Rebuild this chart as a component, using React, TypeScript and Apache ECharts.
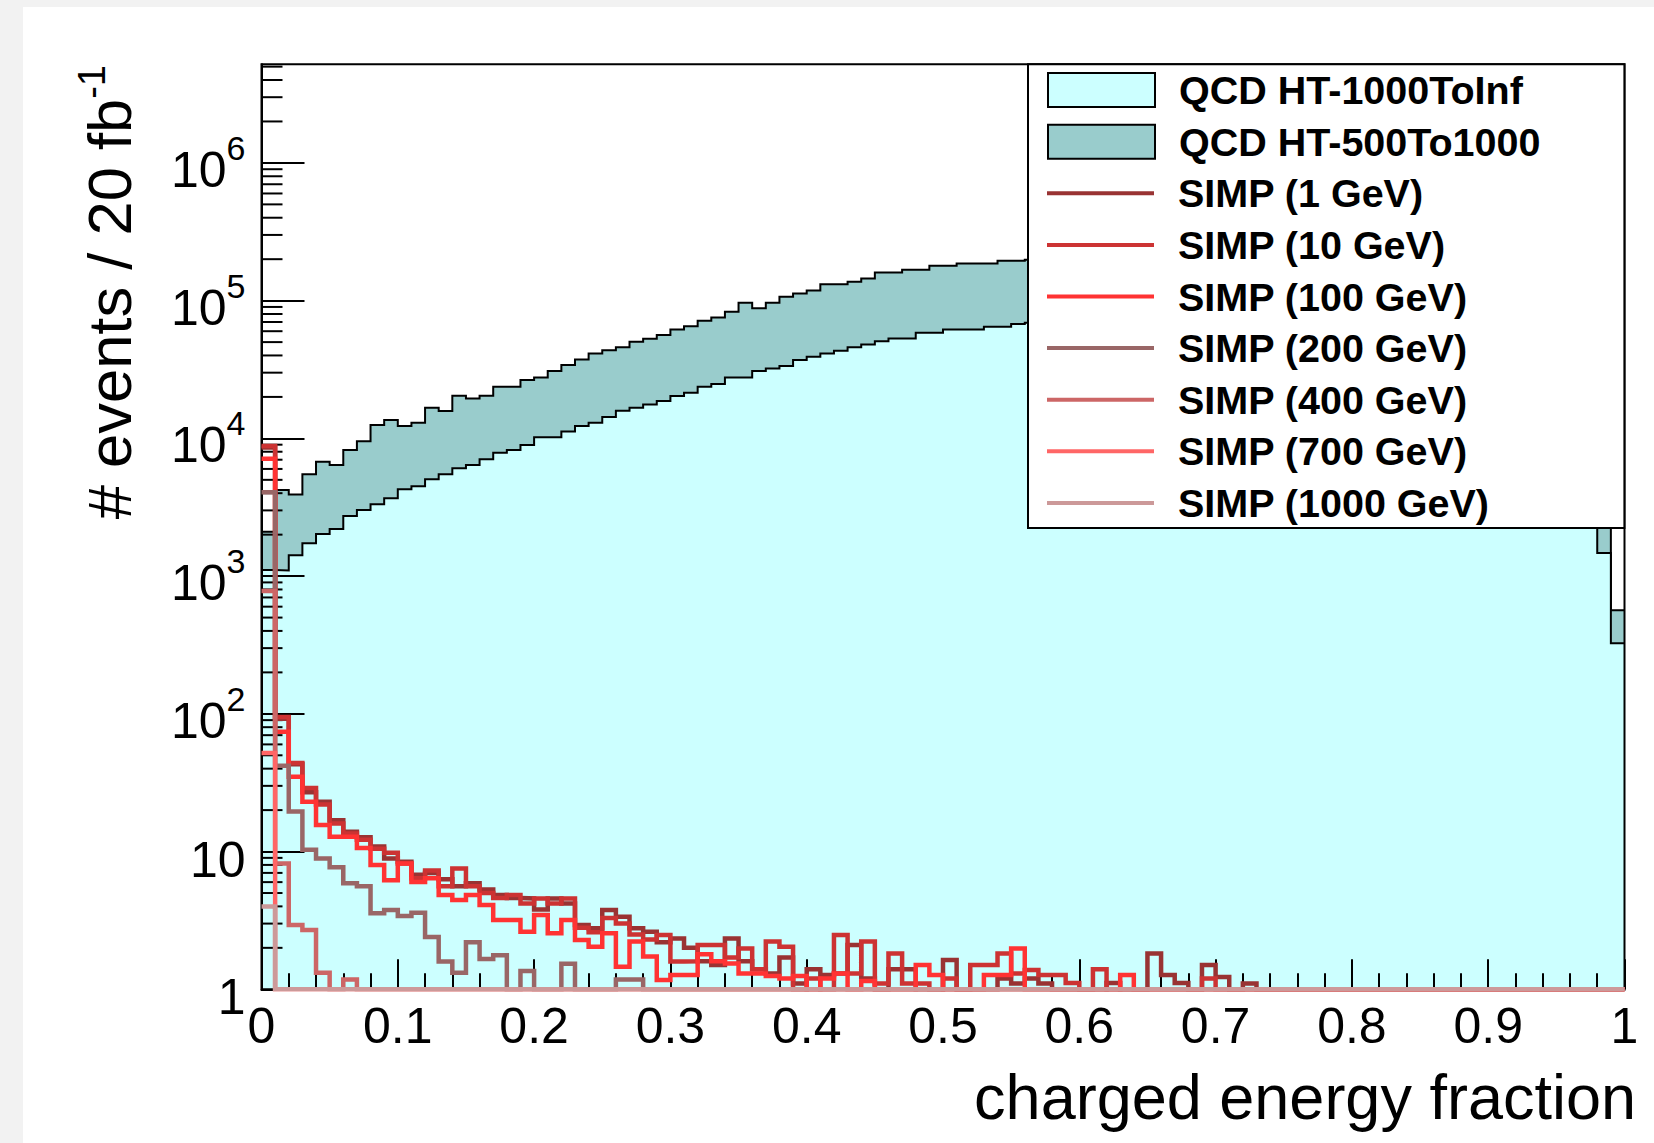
import React, { useEffect, useRef } from "react";
import * as echarts from "echarts";

// ---------------- data (100 bins of width 0.01 in charged energy fraction) ----------------
const N_BINS = 100;
const BIN_WIDTH = 0.01;
const xTickLabels = ["0", "0.1", "0.2", "0.3", "0.4", "0.5", "0.6", "0.7", "0.8", "0.9", "1"];

// QCD HT-1000ToInf (bottom of the stack, light cyan)
const qcdHT1000ToInf = [
  1107, 1100, 1420, 1730, 2020, 2200, 2730, 3020, 3320, 3670,
  4280, 4500, 5040, 5480, 6060, 6400, 7040, 7870, 8220, 8940,
  10200, 10200, 11200, 12300, 13000, 14300, 15900, 16700, 17600, 18700,
  20300, 21400, 23700, 24800, 27700, 27700, 30800, 32200, 33500, 37000,
  39100, 41400, 43200, 45800, 48100, 50800, 53200, 53200, 58400, 58400,
  61800, 61800, 61800, 64600, 64600, 67600, 69000, 70000, 71000, 72000,
  72500, 73000, 73500, 73500, 73000, 72500, 71500, 70500, 69000, 67500,
  65500, 63500, 61000, 58500, 56000, 53000, 50000, 47000, 44000, 41000,
  38000, 35000, 32000, 29000, 26000, 23000, 20500, 18000, 15500, 13500,
  11500, 10000, 8500, 7200, 6000, 5000, 3800, 2600, 1470, 326,
];

// top outline of the stack (HT-1000ToInf + HT-500To1000)
const qcdStackTotal = [
  2100, 4220, 3920, 5480, 6760, 6400, 8220, 9550, 12500, 13600,
  12300, 13000, 16700, 15800, 20400, 19500, 20400, 23700, 23700, 26500,
  27700, 30800, 34100, 37400, 41400, 43700, 45800, 50300, 52800, 56200,
  61800, 65300, 71400, 75600, 83000, 96600, 87900, 96600, 106700, 112800,
  118600, 131800, 131800, 137000, 145000, 160300, 160300, 167500, 167500, 179000,
  179000, 186400, 186400, 186400, 194700, 194700, 198000, 200000, 203000, 205000,
  207000, 208000, 209000, 209000, 208000, 206000, 203000, 199000, 195000, 190000,
  184000, 177000, 170000, 162000, 153000, 144000, 135000, 125000, 116000, 106000,
  97000, 88000, 79000, 70000, 62000, 54000, 47000, 40000, 34000, 29000,
  24000, 20000, 16500, 13500, 11000, 8800, 6500, 4500, 2600, 566,
];

const simp1GeV = [
  8600, 92, 43, 27, 23, 16.9, 13.9, 12.7, 10.9, 8.9,
  8.45, 6.8, 7.0, 6.3, 5.6, 5.9, 5.3, 4.84, 4.6, 4.57,
  3.8, 4.57, 4.2, 2.93, 2.77, 3.77, 3.37, 2.77, 2.62, 2.2,
  2.34, 2.0, 1.6, 1.5, 2.34, 1.6, 1.4, 1.3, 1.7, 1.1,
  1.4, 1.27, 1.3, 2.1, 1.2, 0, 1.4, 1.4, 0, 0,
  1.63, 0, 0, 0, 1.2, 1.1, 1.2, 1.1, 0, 0,
  0, 0, 1.11, 0, 0, 1.82, 1.27, 1.11, 0, 1.5,
  1.23, 0, 1.1,
];
const simp10GeV = [
  8800, 95, 44, 29, 22, 16, 13.5, 12.2, 10.5, 9.8,
  8.2, 6.4, 7.3, 5.6, 7.55, 5.6, 5.0, 4.6, 4.84, 4.2,
  4.57, 4.2, 4.57, 2.8, 2.6, 3.3, 3.0, 2.5, 2.3, 2.48,
  1.59, 1.6, 2.1, 2.1, 1.7, 1.98, 1.4, 2.22, 2.04, 0,
  1.2, 0, 2.48, 1.3, 2.22, 1.1, 1.82, 1.1, 1.1, 0,
  1.2, 0, 1.5, 1.5, 1.82, 1.3, 1.38, 1.27, 1.27, 1.11,
  0, 1.4, 0, 0, 0, 0, 0, 0, 0, 1.2,
];
const simp100GeV = [
  7100, 74, 35, 23, 15.6, 12.8, 12.8, 10.6, 8.0, 6.2,
  8.2, 6.0, 6.4, 4.84, 4.45, 4.84, 4.09, 3.18, 3.18, 2.62,
  3.46, 2.55, 3.18, 2.28, 2.04, 2.55, 1.46, 2.22, 1.73, 1.17,
  1.27, 1.27, 1.8, 1.6, 1.54, 1.3, 1.3, 1.25, 1.2, 1.25,
  0, 1.2, 1.3, 0, 1.15, 0, 0, 0, 1.5, 1.27,
  0, 0, 0, 1.27, 1.27, 1.98, 0, 0, 0, 0,
  0, 0, 0, 1.27,
];
const simp200GeV = [
  4060, 42, 19.5, 10.3, 8.9, 7.7, 5.9, 5.6, 3.56, 3.77,
  3.4, 3.6, 2.4, 1.59, 1.32, 2.2, 1.66, 1.77, 0, 1.36,
  0, 0, 1.53, 0, 0, 0, 1.18, 1.18,
];
const simp400GeV = [780, 8.2, 2.93, 2.7, 1.32, 0, 1.18, 0];
const simp700GeV = [52];
const simp1000GeV = [4];

// ---------------- styling ----------------
const FONT = "'Liberation Sans', Arial, Helvetica, sans-serif";
const Y_MIN = 1;
const Y_MAX = 5.2e6;

const simpSeries = [
  { name: "SIMP (1 GeV)", values: simp1GeV, color: "#993333" },
  { name: "SIMP (10 GeV)", values: simp10GeV, color: "#cc3333" },
  { name: "SIMP (100 GeV)", values: simp100GeV, color: "#ff3333" },
  { name: "SIMP (200 GeV)", values: simp200GeV, color: "#996666" },
  { name: "SIMP (400 GeV)", values: simp400GeV, color: "#cc6666" },
  { name: "SIMP (700 GeV)", values: simp700GeV, color: "#ff6666" },
  { name: "SIMP (1000 GeV)", values: simp1000GeV, color: "#cc9999" },
];

// histogram outline as step points; empty bins sit on the frame bottom like ROOT's log pad
function histPoints(values: number[]): number[][] {
  const pts: number[][] = [];
  for (let i = 0; i < N_BINS; i++) {
    const v = i < values.length ? values[i] : 0;
    pts.push([i * BIN_WIDTH, Math.max(v, Y_MIN)]);
  }
  const last = values.length >= N_BINS ? values[N_BINS - 1] : 0;
  pts.push([N_BINS * BIN_WIDTH, Math.max(last, Y_MIN)]);
  return pts;
}

function minorTickValues(): number[][] {
  const out: number[][] = [];
  for (let k = 0; k <= 6; k++) {
    for (let m = 2; m <= 9; m++) {
      const v = m * Math.pow(10, k);
      if (v < Y_MAX) out.push([0, v]);
    }
  }
  return out;
}

export default function App() {
  const ref = useRef<HTMLDivElement>(null);

  useEffect(() => {
    if (!ref.current) return;
    const chart = echarts.init(ref.current, undefined, { renderer: "svg" });

    const series: any[] = [
      {
        type: "line",
        name: "QCD HT-500To1000",
        data: histPoints(qcdStackTotal),
        step: "end",
        symbol: "none",
        showSymbol: false,
        color: "#99cccc",
        lineStyle: { color: "#000", width: 2, join: "miter" },
        areaStyle: { color: "#99cccc", opacity: 1, origin: "start" },
        z: 2,
        silent: true,
      },
      {
        type: "line",
        name: "QCD HT-1000ToInf",
        data: histPoints(qcdHT1000ToInf),
        step: "end",
        symbol: "none",
        showSymbol: false,
        color: "#ccffff",
        lineStyle: { color: "#000", width: 2, join: "miter" },
        areaStyle: { color: "#ccffff", opacity: 1, origin: "start" },
        z: 3,
        silent: true,
      },
      {
        type: "custom",
        name: "minorTicks",
        data: minorTickValues(),
        encode: { x: 0, y: 1 },
        silent: true,
        z: 5,
        renderItem: (params: any, api: any) => {
          const p = api.coord([api.value(0), api.value(1)]);
          return {
            type: "line",
            shape: { x1: p[0], y1: p[1], x2: p[0] + 21, y2: p[1] },
            style: { stroke: "#000", lineWidth: 2 },
          };
        },
      },
      ...simpSeries.map((s, i) => ({
        type: "line",
        name: s.name,
        data: histPoints(s.values),
        step: "end",
        symbol: "none",
        showSymbol: false,
        color: s.color,
        lineStyle: { color: s.color, width: 4.5, join: "miter" },
        z: 6 + i,
        silent: true,
      })),
    ];

    const legendText = {
      fontFamily: FONT,
      fontWeight: "bold" as const,
      fontSize: 39.5,
      color: "#000",
      lineHeight: 51.6,
      padding: [0, 0, 0, 19],
    };

    chart.setOption({
      animation: false,
      backgroundColor: "transparent",
      grid: {
        left: 261.5,
        right: 29.5,
        top: 64.3,
        bottom: 153.7,
        show: true,
        borderColor: "#000",
        borderWidth: 2,
        backgroundColor: "transparent",
        z: 5,
        containLabel: false,
        outerBoundsMode: "none",
      },
      xAxis: {
        type: "value",
        min: 0,
        max: 1,
        interval: 0.1,
        z: 5,
        axisLine: { show: true, onZero: false, lineStyle: { color: "#000", width: 2 } },
        axisTick: { show: true, inside: true, length: 30, lineStyle: { color: "#000", width: 2 } },
        minorTick: { show: true, splitNumber: 5, length: 16, lineStyle: { color: "#000", width: 2 } },
        splitLine: { show: false },
        minorSplitLine: { show: false },
        axisLabel: {
          color: "#000",
          fontFamily: FONT,
          fontSize: 50,
          margin: 12,
          showMinLabel: true,
          showMaxLabel: true,
          formatter: (v: number) => xTickLabels[Math.round(v * 10)] ?? "",
        },
      },
      yAxis: {
        type: "log",
        logBase: 10,
        min: Y_MIN,
        max: Y_MAX,
        z: 5,
        axisLine: { show: true, onZero: false, lineStyle: { color: "#000", width: 2 } },
        axisTick: { show: true, inside: true, length: 43, lineStyle: { color: "#000", width: 2 } },
        splitLine: { show: false },
        axisLabel: {
          color: "#000",
          fontFamily: FONT,
          margin: 16,
          showMaxLabel: false,
          formatter: (v: number) => {
            const e = Math.log10(v);
            const r = Math.round(e);
            if (Math.abs(e - r) > 1e-6) return "";
            if (r === 0) return "{n|1}";
            if (r === 1) return "{n|10}";
            return "{b|10}{s|" + r + "}";
          },
          rich: {
            n: { fontSize: 50, fontFamily: FONT, color: "#000", padding: [16, 0, 0, 0] },
            b: { fontSize: 50, fontFamily: FONT, color: "#000", verticalAlign: "bottom" },
            s: { fontSize: 34, fontFamily: FONT, color: "#000", verticalAlign: "top", padding: [0, 0, 30, 0] },
          },
        },
      },
      legend: [
        {
          id: "qcd",
          orient: "vertical",
          left: 1047,
          top: 64.3,
          padding: 0,
          itemGap: 0,
          itemWidth: 107,
          itemHeight: 34,
          icon: "rect",
          selectedMode: false,
          z: 20,
          textStyle: legendText,
          data: [
            { name: "QCD HT-1000ToInf", itemStyle: { color: "#ccffff", borderColor: "#000", borderWidth: 2 } },
            { name: "QCD HT-500To1000", itemStyle: { color: "#99cccc", borderColor: "#000", borderWidth: 2 } },
          ],
        },
        {
          id: "simp",
          orient: "vertical",
          left: 1047,
          top: 64.3 + 2 * 51.6,
          padding: 0,
          itemGap: 0,
          itemWidth: 107,
          itemHeight: 4,
          icon: "rect",
          selectedMode: false,
          z: 20,
          itemStyle: { borderWidth: 0 },
          textStyle: legendText,
          data: simpSeries.map((s) => ({ name: s.name, itemStyle: { color: s.color, borderWidth: 0 } })),
        },
      ],
      graphic: [
        {
          type: "rect",
          z: 15,
          shape: { x: 1028, y: 64.3, width: 596.4, height: 463.7 },
          style: { fill: "#fff", stroke: "#000", lineWidth: 2 },
          silent: true,
        },
        {
          type: "text",
          z: 15,
          x: 109,
          y: 65,
          rotation: Math.PI / 2,
          style: {
            text: "# events / 20 fb{s|-1}",
            fill: "#000",
            fontFamily: FONT,
            fontSize: 61.5,
            align: "right",
            verticalAlign: "middle",
            textAlign: "right",
            textVerticalAlign: "middle",
            rich: {
              s: { fontSize: 38, fontFamily: FONT, fill: "#000", verticalAlign: "top", padding: [0, 0, 34, 0] },
            },
          },
          silent: true,
        },
        {
          type: "text",
          z: 15,
          x: 1636,
          y: 1097,
          style: {
            text: "charged energy fraction",
            fill: "#000",
            fontFamily: FONT,
            fontSize: 63,
            align: "right",
            verticalAlign: "middle",
            textAlign: "right",
            textVerticalAlign: "middle",
          },
          silent: true,
        },
      ],
      series,
    });

    return () => chart.dispose();
  }, []);

  return (
    <div style={{ position: "fixed", left: 0, top: 0, width: 1654, height: 1143, background: "#f2f2f2" }}>
      <div style={{ position: "absolute", left: 23, top: 7, right: 0, bottom: 0, background: "#fff" }} />
      <div ref={ref} style={{ position: "absolute", left: 0, top: 0, width: 1654, height: 1143 }} />
    </div>
  );
}
